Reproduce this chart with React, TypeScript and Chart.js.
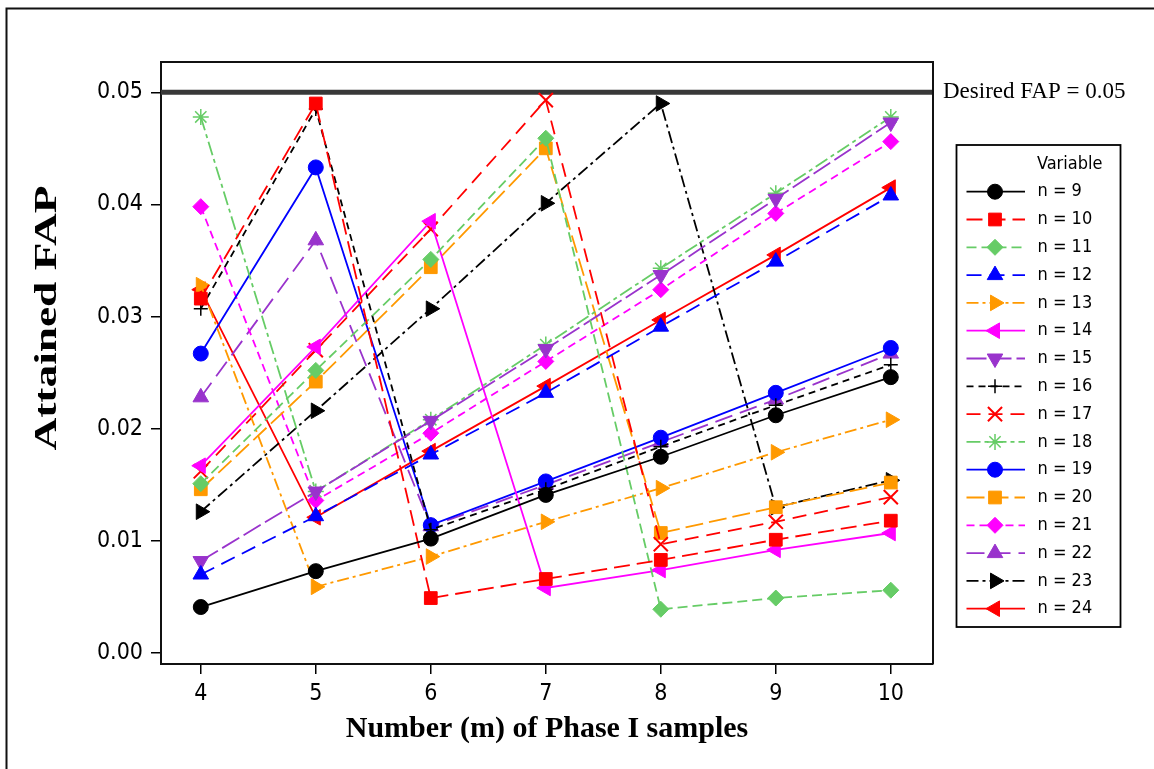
import React, { useEffect, useRef } from 'react';
import { Chart, registerables } from 'chart.js';
import { drawPoint } from 'chart.js/helpers';

Chart.register(...registerables);

// ---------- data ----------
const mValues = [4, 5, 6, 7, 8, 9, 10];
const seriesLabels = ['n = 9', 'n = 10', 'n = 11', 'n = 12', 'n = 13', 'n = 14', 'n = 15', 'n = 16',
  'n = 17', 'n = 18', 'n = 19', 'n = 20', 'n = 21', 'n = 22', 'n = 23', 'n = 24'];
const n9 = [0.0041, 0.0073, 0.0102, 0.0141, 0.0175, 0.0212, 0.0246];
const n10 = [0.0316, 0.0490, 0.0049, 0.0066, 0.0083, 0.0101, 0.0118];
const n11 = [0.0151, 0.0252, 0.0351, 0.0459, 0.0039, 0.0049, 0.0056];
const n12 = [0.0070, 0.0122, 0.0177, 0.0232, 0.0291, 0.0349, 0.0408];
const n13 = [0.0328, 0.0059, 0.0086, 0.0117, 0.0147, 0.0179, 0.0208];
const n14 = [0.0167, 0.0273, 0.0385, 0.0058, 0.0074, 0.0092, 0.0107];
const n15 = [0.0082, 0.0144, 0.0207, 0.0271, 0.0337, 0.0405, 0.0473];
const n16 = [0.0307, 0.0485, 0.0110, 0.0146, 0.0184, 0.0221, 0.0257];
const n17 = [0.0162, 0.0270, 0.0378, 0.0493, 0.0097, 0.0117, 0.0139];
const n18 = [0.0478, 0.0144, 0.0208, 0.0275, 0.0343, 0.0410, 0.0478];
const n19 = [0.0267, 0.0433, 0.0114, 0.0153, 0.0192, 0.0232, 0.0272];
const n20 = [0.0146, 0.0242, 0.0344, 0.0450, 0.0107, 0.0130, 0.0152];
const n21 = [0.0398, 0.0136, 0.0196, 0.0260, 0.0324, 0.0392, 0.0456];
const n22 = [0.0228, 0.0368, 0.0113, 0.0150, 0.0188, 0.0226, 0.0267];
const n23 = [0.0126, 0.0216, 0.0307, 0.0401, 0.0490, 0.0130, 0.0154];
const n24 = [0.0324, 0.0121, 0.0180, 0.0238, 0.0297, 0.0355, 0.0415];
const seriesValues = [n9, n10, n11, n12, n13, n14, n15, n16, n17, n18, n19, n20, n21, n22, n23, n24];
const desiredFAP = 0.05;
const yTicks = [0, 0.01, 0.02, 0.03, 0.04, 0.05];
const xTicks = [4, 5, 6, 7, 8, 9, 10];

// ---------- styles ----------
const BLACK = '#000000', RED = '#ff0000', GREEN = '#66cc66', BLUE = '#0000ff',
  ORANGE = '#ff9900', MAGENTA = '#ff00ff', PURPLE = '#9933cc';
type St = { color: string; dash: number[]; style: string; rot: number; r: number; bw: number };
const styles: St[] = [
  { color: BLACK, dash: [], style: 'circle', rot: 0, r: 7.5, bw: 1 },
  { color: RED, dash: [16, 7], style: 'rect', rot: 0, r: 9, bw: 1 },
  { color: GREEN, dash: [10, 5], style: 'rectRot', rot: 0, r: 8, bw: 1 },
  { color: BLUE, dash: [15, 8], style: 'triangle', rot: 0, r: 9, bw: 1 },
  { color: ORANGE, dash: [12, 4, 3, 4], style: 'triangle', rot: 90, r: 9, bw: 1 },
  { color: MAGENTA, dash: [], style: 'triangle', rot: -90, r: 9, bw: 1 },
  { color: PURPLE, dash: [20, 5], style: 'triangle', rot: 180, r: 9, bw: 1 },
  { color: BLACK, dash: [7, 5], style: 'cross', rot: 0, r: 7, bw: 1.5 },
  { color: RED, dash: [14, 8], style: 'crossRot', rot: 0, r: 10, bw: 2 },
  { color: GREEN, dash: [14, 4, 4, 4], style: 'star', rot: 0, r: 8, bw: 1.5 },
  { color: BLUE, dash: [], style: 'circle', rot: 0, r: 7.5, bw: 1 },
  { color: ORANGE, dash: [18, 6], style: 'rect', rot: 0, r: 9, bw: 1 },
  { color: MAGENTA, dash: [8, 5], style: 'rectRot', rot: 0, r: 8, bw: 1 },
  { color: PURPLE, dash: [18, 8], style: 'triangle', rot: 0, r: 9, bw: 1 },
  { color: BLACK, dash: [12, 4, 3, 4], style: 'triangle', rot: 90, r: 9, bw: 1 },
  { color: RED, dash: [], style: 'triangle', rot: -90, r: 9, bw: 1 },
];

const X_MIN = 3.654, X_MAX = 10.367;
const Y_MIN = -0.00098, Y_MAX = 0.0527;
const SANS = '"DejaVu Sans Condensed", "DejaVu Sans", sans-serif';
const SERIF = '"Liberation Serif", "Times New Roman", serif';

const framePlugin = {
  id: 'frameAndText',
  afterDraw(chart: any) {
    const ctx = chart.ctx as CanvasRenderingContext2D;
    const a = chart.chartArea;
    ctx.save();
    // outer frame
    ctx.strokeStyle = '#111';
    ctx.lineWidth = 2;
    ctx.beginPath();
    ctx.moveTo(6.5, 769);
    ctx.lineTo(6.5, 8.5);
    ctx.lineTo(1154, 8.5);
    ctx.stroke();
    // plot frame top/right
    ctx.strokeStyle = '#111';
    ctx.lineWidth = 2;
    ctx.beginPath();
    ctx.moveTo(a.left, a.top);
    ctx.lineTo(a.right, a.top);
    ctx.lineTo(a.right, a.bottom);
    ctx.stroke();
    // y title
    ctx.save();
    ctx.translate(48, 318);
    ctx.rotate(-Math.PI / 2);
    ctx.font = `bold 31px ${SERIF}`;
    ctx.fillStyle = '#000';
    ctx.textAlign = 'center';
    ctx.textBaseline = 'middle';
    const t = 'Attained FAP';
    const w = ctx.measureText(t).width;
    ctx.scale(265 / w, 1);
    ctx.fillText(t, 0, 0);
    ctx.restore();
    // desired label
    const yp = chart.scales.y.getPixelForValue(desiredFAP);
    ctx.font = `23px ${SERIF}`;
    ctx.fillStyle = '#000';
    ctx.textAlign = 'left';
    ctx.textBaseline = 'middle';
    ctx.fillText('Desired FAP = 0.05', 943, yp);
    // legend box
    ctx.strokeStyle = '#000';
    ctx.lineWidth = 1.8;
    ctx.strokeRect(956.5, 145, 164, 482);
    ctx.font = `18px ${SANS}`;
    ctx.fillStyle = '#000';
    ctx.textBaseline = 'middle';
    ctx.fillText('Variable', 1037, 164);
    for (let i = 0; i < seriesLabels.length; i++) {
      const s = styles[i];
      const cy = 191.7 + i * 27.8;
      ctx.save();
      ctx.strokeStyle = s.color;
      ctx.lineWidth = 1.8;
      ctx.setLineDash(s.dash);
      ctx.beginPath();
      ctx.moveTo(966.5, cy);
      ctx.lineTo(1025, cy);
      ctx.stroke();
      ctx.setLineDash([]);
      ctx.fillStyle = s.color;
      ctx.strokeStyle = s.color;
      ctx.lineWidth = s.bw;
      drawPoint(ctx, { pointStyle: s.style, radius: s.r, rotation: s.rot, borderWidth: s.bw } as any, 995, cy);
      ctx.restore();
      ctx.fillStyle = '#000';
      ctx.font = `18px ${SANS}`;
      ctx.textAlign = 'left';
      ctx.textBaseline = 'middle';
      ctx.fillText(seriesLabels[i], 1037.5, cy);
    }
    ctx.restore();
  },
};

export default function App() {
  const ref = useRef<HTMLCanvasElement | null>(null);
  useEffect(() => {
    if (!ref.current) return;
    const datasets: any[] = seriesValues.map((vals, i) => {
      const s = styles[i];
      return {
        label: seriesLabels[i],
        data: mValues.map((m, j) => ({ x: m, y: vals[j] })),
        borderColor: s.color,
        backgroundColor: s.color,
        borderWidth: 1.8,
        borderDash: s.dash,
        pointStyle: s.style,
        pointRotation: s.rot,
        pointRadius: s.r,
        pointBorderWidth: s.bw,
        pointBorderColor: s.color,
        pointBackgroundColor: s.color,
        fill: false,
        tension: 0,
        order: 1,
      };
    });
    datasets.push({
      label: 'Desired FAP',
      data: [{ x: X_MIN, y: desiredFAP }, { x: X_MAX, y: desiredFAP }],
      borderColor: '#383838',
      borderWidth: 5,
      pointRadius: 0,
      fill: false,
      order: 100,
    });
    const chart = new Chart(ref.current, {
      type: 'line',
      data: { datasets },
      options: {
        animation: false,
        responsive: false,
        maintainAspectRatio: false,
        layout: { padding: { left: 0, top: 62, right: 221, bottom: 0 } },
        plugins: { legend: { display: false }, tooltip: { enabled: false } },
        scales: {
          x: {
            type: 'linear',
            min: X_MIN,
            max: X_MAX,
            afterBuildTicks: (s: any) => { s.ticks = xTicks.map((v) => ({ value: v })); },
            afterFit: (s: any) => { s.height = 105; },
            grid: { display: true, drawOnChartArea: false, drawTicks: true, tickLength: 10, color: '#000', lineWidth: 1.5 },
            border: { display: true, color: '#111', width: 2 },
            ticks: {
              font: { family: SANS, size: 23 },
              color: '#000',
              padding: 6,
              maxRotation: 0,
              autoSkip: false,
              callback: (v: any) => String(v),
            },
            title: {
              display: true,
              text: 'Number (m) of Phase I samples',
              font: { family: SERIF, size: 30, weight: 'bold' },
              color: '#000',
              padding: { top: 0, bottom: 22 },
            },
          },
          y: {
            type: 'linear',
            min: Y_MIN,
            max: Y_MAX,
            afterBuildTicks: (s: any) => { s.ticks = yTicks.map((v) => ({ value: v })); },
            afterFit: (s: any) => { s.width = 161; },
            grid: { display: true, drawOnChartArea: false, drawTicks: true, tickLength: 10, color: '#000', lineWidth: 1.5 },
            border: { display: true, color: '#111', width: 2 },
            ticks: {
              font: { family: SANS, size: 23 },
              color: '#000',
              padding: 8,
              autoSkip: false,
              callback: (v: any) => Number(v).toFixed(2),
            },
          },
        },
      } as any,
      plugins: [framePlugin],
    });
    return () => chart.destroy();
  }, []);
  return (
    <div style={{ position: 'fixed', left: 0, top: 0, width: 1154, height: 769, background: '#fff' }}>
      <canvas ref={ref} width={1154} height={769} style={{ display: 'block', width: 1154, height: 769 }} />
    </div>
  );
}
